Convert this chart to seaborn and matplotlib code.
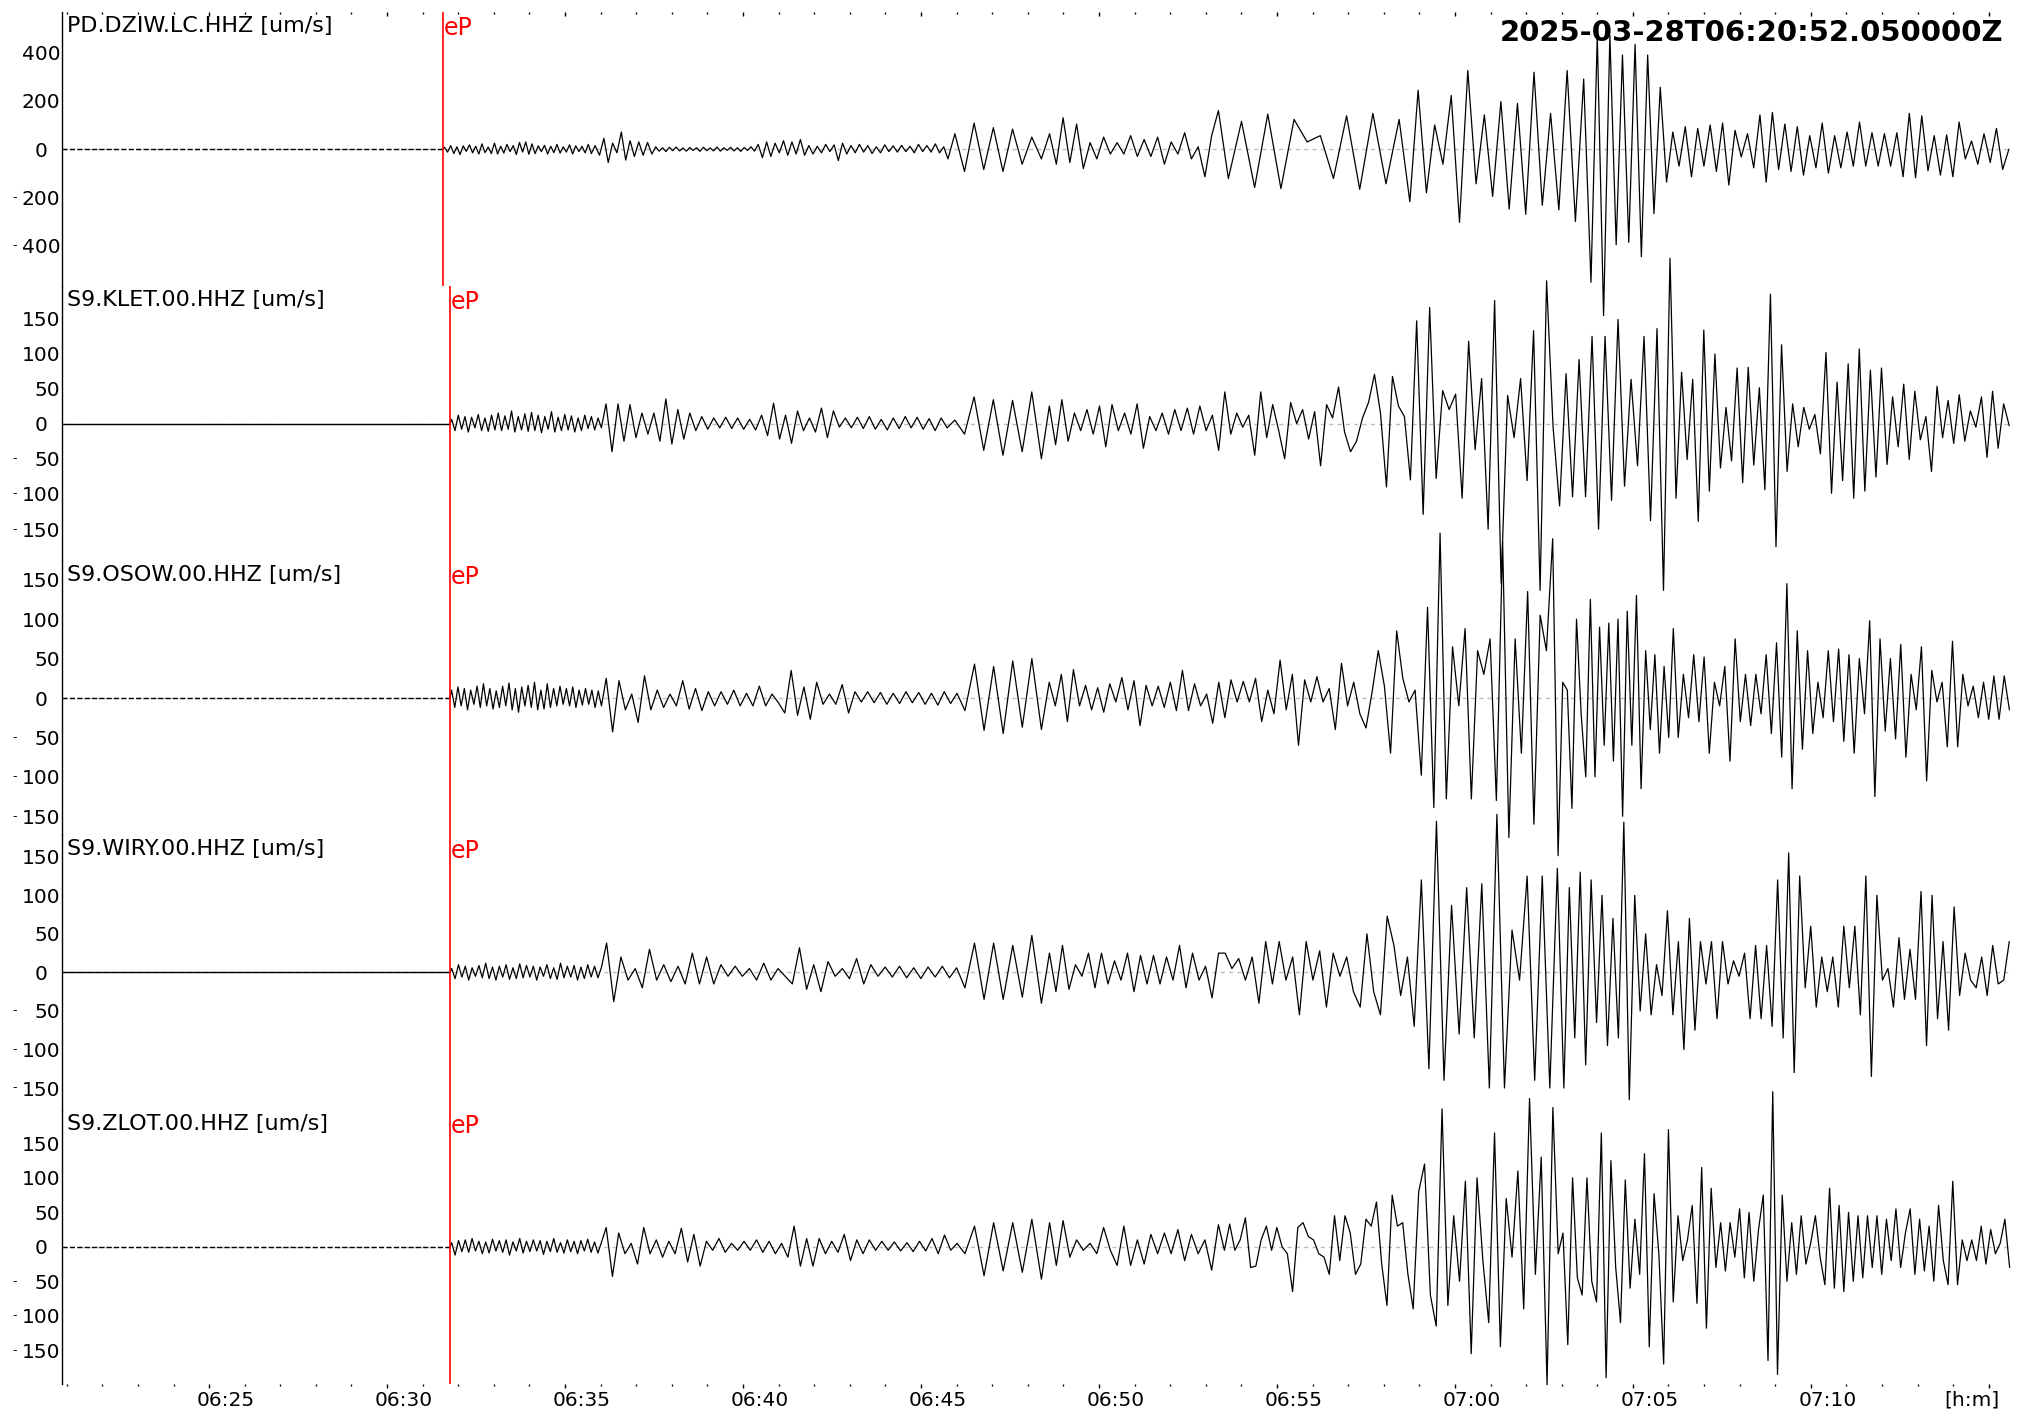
import pandas as pd
import matplotlib
matplotlib.use('Agg')
import matplotlib.pyplot as plt
import matplotlib.transforms as mtransforms
import seaborn as sns

# window start 2025-03-28 06:20:52.05 UTC, all times below are seconds after it
start_label = '2025-03-28T06:20:52.050000Z'
start_sec = 20 * 60 + 52.05      # seconds after 06:00
end_t = 3287

stations = ['PD.DZIW.LC.HHZ', 'S9.KLET.00.HHZ', 'S9.OSOW.00.HHZ', 'S9.WIRY.00.HHZ', 'S9.ZLOT.00.HHZ']
pick_t = [642, 654, 654, 654, 654]
y_lim = [567, 195, 174, 178, 199]
y_ticks = [[400, 200, 0, -200, -400]] + [[150, 100, 50, 0, -50, -100, -150]] * 4
pre_style = ['--', '-', '--', '-', '--']

# peaks / troughs, grouped in time segments (edges in s)
dziw_edges = [642, 895, 998, 1170, 1497, 1659, 1955, 2265, 2572, 2710, 3287]
dziw_vals = [
    [8, -12, 15, -18, 10, -22, 14, -9, 18, -15, 12, -20, 22, -14, 9, -18, 25, -20, 12, -16, 20, -10, 15, -22,
     28, -12, 30, -21, 22, -18, 14, -10, 16, -20, 12, -14, 20, -16, 10, -12, 18, -20, 14, -10, 12, -15, 20, -18],
    [15, -25, 45, -55, 25, -15, 71, -45, 35, -30, 30, -25, 28, -20],
    [10, -8, 6, -10, 8, -6, 9, -7, 5, -8, 7, -5, 6, -9, 8, -6, 5, -7, 9, -8, 6, -5, 8, -7, 6, -9, 7, -5, 10, -8],
    [20, -35, 30, -30, 25, -15, 35, -25, 30, -20, 40, -25, 15, -20, 12, -15, 20, -10, 18, -47, 25, -20, 15, -15,
     20, -12, 15, -18, 10, -15, 18, -10, 14, -12, 16, -10, 12, -15, 20, -10, 15, -12, 22, -15, 10, -40],
    [64, -92, 108, -84, 89, -92, 83, -62, 50, -40],
    [64, -62, 130, -55, 104, -80, 27, -40, 50, -20, 27, -20, 56, -30, 40, -30, 50, -62, 30, -20, 68, -40, 10,
     -114, 56, 160],
    [-121, 115, -158, 145, -163, 123, 30, 56, -121, 138, -166, 148, -143, 123],
    [-217, 244, -180, 100, -62, 222, -302, 325, -143, 142, -195, 197, -247, 189, -269, 318, -232, 148, -251,
     325, -299, 290],
    [-550, 470, -688, 470, -395, 389, -385, 433, -444, 389, -266, 256, -136],
    [71, -70, 93, -114, 86, -70, 100, -92, 108, -148, 78, -32, 64, -77, 142, -136, 152, -84, 104, -92, 93, -107,
     56, -77, 108, -99, 56, -77, 71, -70, 112, -70, 68, -70, 64, -70, 68, -114, 148, -118, 138, -89, 56, -107,
     59, -114, 112, -40, 34, -62, 64, -55, 86, -84, 0],
]

klet_edges = [654, 912, 1497, 1659, 1955, 2278, 2716, 3287]
klet_vals = [
    [6, -10, 12, -8, 10, -12, 9, -6, 13, -10, 8, -11, 12, -9, 15, -10, 11, -8, 18, -12, 10, -9, 14, -11, 16,
     -10, 12, -13, 10, -8, 17, -12, 9, -10, 13, -9, 11, -12, 8, -10, 12, -7, 10, -9, 8, -6],
    [28, -40, 28, -25, 27, -20, 15, -15, 15, -25, 35, -29, 20, -22, 15, -10, 10, -8, 8, -6, 9, -7, 8, -8, 6, -9,
     12, -17, 29, -22, 12, -28, 18, -10, 8, -12, 22, -20, 18, -5, 8, -6, 9, -7, 10, -8, 6, -9, 8, -7, 10, -6,
     9, -8, 7, -10, 8, -6],
    [5, -15, 38, -38, 34, -45, 33, -40, 45, -50],
    [25, -30, 34, -25, 15, -10, 20, -15, 25, -33, 27, -10, 15, -15, 28, -35, 10, -10, 15, -15, 20, -10, 22, -15,
     25, -10, 12, -38],
    [45, -15, 15, -5, 12, -45, 45, -20, 27, -10, -50, 30, 0, 20, -22, 17, -60, 27, 8, 52, -12, -40, -25, 8, 30,
     70, 15, -90, 67, 25, 10, -80],
    [146, -129, 165, -78, 47, 20, 42, -106, 117, -37, 64, -150, 175, -227, 40, -20, 64, -81, 132, -237, 203, -5,
     -117, 71, -104, 91, -104, 124, -150, 124, -109, 148, -89, 63, -60, 124, -138, 135, -237, 235],
    [-106, 73, -51, 63, -139, 133, -96, 99, -63, 23, -53, 79, -84, 80, -59, 51, -94, 184, -175, 112, -68, 28,
     -33, 23, -8, 13, -43, 101, -99, 59, -81, 85, -106, 106, -96, 76, -76, 79, -58, 38, -33, 56, -51, 46, -23,
     10, -68, 53, -20, 33, -28, 41, -25, 18, -5, 38, -48, 46, -35, 28, -3],
]

osow_edges = [654, 912, 1514, 1659, 1955, 2286, 2518, 2720, 3287]
osow_vals = [
    [10, -12, 14, -10, 12, -15, 10, -8, 15, -12, 18, -10, 12, -14, 9, -12, 15, -10, 19, -15, 12, -18, 14, -10,
     16, -12, 20, -15, 10, -14, 18, -12, 12, -10, 15, -8, 12, -10, 14, -12, 10, -9, 12, -8, 10, -12, 9, -10],
    [25, -43, 22, -15, 5, -31, 28, -15, 10, -12, 5, -10, 22, -14, 12, -16, 8, -10, 8, -8, 10, -10, 6, -10, 15,
     -10, 5, -6, -19, 35, -22, 14, -27, 20, -8, 5, -8, 17, -19, 8, -5, 8, -6, 7, -8, 6, -7, 8, -6, 7, -8, 6, -9,
     8, -7, 6],
    [-16, 43, -41, 40, -45, 47, -37, 50, -40],
    [20, -10, 30, -30, 36, -10, 16, -15, 13, -18, 18, -5, 26, -15, 22, -35, 16, -10, 15, -12, 20, -16, 35, -16,
     18, -10, 5, -32, 20],
    [-25, 23, -5, 21, -5, 25, -30, 10, -20, 48, -15, 30, -60, 23, -5, 27, -5, 12, -40, 44, -10, 20, -20, -38, 8,
     60, 15, -70, 85, 25, -5, 10],
    [-98, 115, -139, 209, -128, 65, -10, 88, -128, 60, 30, 75, -130, 198, -177, 75, -70, 135, -160, 105, 60, 202],
    [-200, 20, 10, -140, 100, -20, -100, 125, -100, 90, -60, 95, -80, 100, -150, 110, -60, 130, -115, 60, -40,
     55, -70, 40, -50, 88],
    [-50, 30, -25, 55, -30, 52, -70, 20, -10, 40, -80, 75, -30, 30, -35, 30, -20, 55, -45, 70, -75, 145, -115,
     85, -65, 60, -45, 20, -25, 60, -30, 62, -55, 55, -70, 50, -20, 98, -125, 75, -42, 50, -52, 68, -75, 30,
     -15, 65, -105, 35, -5, 20, -62, 72, -62, 30, -10, 15, -25, 20, -27, 28, -27, 28, -15],
]

wiry_edges = [654, 912, 1514, 1659, 1955, 2285, 2527, 2720, 3287]
wiry_vals = [
    [5, -8, 10, -6, 8, -10, 6, -5, 9, -7, 12, -8, 7, -10, 8, -6, 10, -9, 6, -8, 11, -7, 9, -6, 8, -10, 7, -5,
     10, -8, 6, -9, 12, -7, 8, -6, 9, -10, 7, -8, 10, -6, 8, -7, 6],
    [38, -38, 20, -10, 5, -20, 30, -10, 10, -12, 8, -15, 25, -15, 20, -15, 10, -5, 8, -5, 5, -10, 12, -10, 5,
     -5, -15, 32, -22, 10, -25, 14, -5, 5, -8, 18, -15, 10, -5, 7, -6, 8, -7, 6, -8, 7, -6, 8, -7, 6],
    [-20, 38, -35, 38, -35, 35, -32, 48, -40],
    [25, -25, 35, -22, 10, -5, 25, -20, 25, -15, 15, -10, 25, -25, 22, -15, 22, -15, 20, -10, 35, -20, 25, -10,
     8, -33, 25],
    [25, 5, 18, -10, 20, -40, 40, -15, 40, -10, 20, -55, 40, -10, 28, -45, 25, -5, 20, -25, -45, 50, -25, -55,
     73, 35, -30, 20, -70],
    [120, -125, 196, -140, 87, -80, 110, -85, 115, -150, 205, -150, 55, -10, 125, -140, 125, -150, 135],
    [-150, 110, -85, 130, -120, 120, -65, 100, -95, 70, -85, 195, -165, 100, -50, 50, -55, 10, -30, 80, -55],
    [40, -100, 70, -75, 40, -15, 40, -60, 40, -15, 15, -5, 25, -60, 35, -60, 35, -70, 120, -85, 155, -130, 125,
     -20, 60, -45, 20, -25, 20, -45, 60, -20, 60, -55, 125, -135, 100, -10, 5, -45, 45, -35, 30, -35, 105, -95,
     100, -60, 40, -75, 85, -30, 25, -10, -20, 20, -30, 35, -15, -10, 40],
]

zlot_edges = [654, 912, 1514, 1659, 1955, 2282, 2518, 2720, 3287]
zlot_vals = [
    [6, -12, 9, -7, 10, -8, 12, -6, 8, -10, 7, -9, 11, -6, 9, -8, 10, -12, 7, -6, 12, -9, 8, -7, 10, -6, 9, -11,
     8, -7, 12, -8, 6, -9, 10, -7, 8, -10, 9, -6, 11, -8, 7, -9, 6],
    [28, -43, 20, -10, 5, -25, 28, -10, 10, -15, 8, -10, 27, -22, 18, -28, 8, -5, 12, -8, 5, -5, 8, -5, 10, -8,
     8, -10, 5, -15, 30, -28, 12, -28, 12, -10, 8, -8, 18, -20, 10, -10, 10, -5, 8, -5, 7, -6, 6, -7, 8, -6, 12,
     -10, 17, -5, 5],
    [-10, 30, -42, 35, -35, 35, -37, 40, -47],
    [35, -27, 38, -15, 10, -5, 5, -10, 28, -5, -27, 30, -27, 10, -25, 18, -10, 20, -10, 25, -20, 18, -10, 10,
     -34, 32],
    [-5, 33, -5, 10, 42, -30, -28, 10, 30, -5, 28, 0, -10, -65, 28, 35, 15, 10, -10, -15, -40, 45, -20, 45, 20,
     -40, -25, 40, 30, 65, -25, -85, 75, 30, 35, -40, -90],
    [80, 120, -70, -115, 200, -85, 45, -50, 95, -155, 100, -20, -110, 165, -145, 70, -15, 110, -90, 215, -40,
     130, -200, 202],
    [-10, 20, -142, 100, -45, -70, 100, -50, -80, 165, -190, 125, -30, -110, 97, -60, 40, -40, 135, -145, 77,
     -10, -170, 170, -80],
    [45, -20, 10, 60, -82, 115, -118, 85, -30, 35, -35, 35, -15, 55, -45, 50, -50, 25, 75, -165, 225, -185, 75,
     -50, 35, -40, 45, -25, 5, 45, -15, -55, 85, -60, 60, -65, 50, -50, 45, -45, 45, -30, 45, -40, 40, -20, 55,
     -30, 20, 55, -40, 40, -35, 30, -50, 60, -20, -55, 95, -55, 10, -20, 10, -20, 30, -25, 25, -10, 5, 40, -30],
]

all_edges = [dziw_edges, klet_edges, osow_edges, wiry_edges, zlot_edges]
all_vals = [dziw_vals, klet_vals, osow_vals, wiry_vals, zlot_vals]


def trace_frame(edges, vals):
    # extrema spread evenly inside their segment
    t, v = [], []
    for a, b, seg in zip(edges[:-1], edges[1:], vals):
        step = (b - a) / len(seg)
        t += [a + (k + 0.5) * step for k in range(len(seg))]
        v += seg
    return pd.DataFrame({'t': [edges[0]] + t, 'v': [0] + v})


sns.set_theme(style='white')
plt.rcParams['font.family'] = ['DejaVu Sans']
plt.rcParams['text.color'] = 'black'

W, H = 2022, 1424
left, right, top, bottom = 62, 2012, 12, 1384
ph = (bottom - top) / 5

fig = plt.figure(figsize=(W / 100, H / 100), dpi=100)
fig.patch.set_facecolor('white')

minutes = list(range(21, 76))
minute_t = [m * 60 - start_sec for m in minutes]
major_m = [m for m in minutes if m % 5 == 0]
major_t = [m * 60 - start_sec for m in major_m]
major_lab = ['%02d:%02d' % (6 + m // 60, m % 60) for m in major_m]
major_lab[-1] = '[h:m]'

axes = []
for i in range(5):
    ax = fig.add_axes([left / W, 1 - (top + (i + 1) * ph) / H, (right - left) / W, ph / H])
    ax.set_facecolor('none')
    axes.append(ax)

    ax.axhline(0, color='#bdbdbd', linestyle=(0, (3, 3)), linewidth=1, zorder=1)
    pre = pd.DataFrame({'t': [0, pick_t[i]], 'v': [0, 0]})
    sns.lineplot(data=pre, x='t', y='v', ax=ax, color='black', linewidth=1,
                 linestyle=pre_style[i], estimator=None, sort=False, zorder=2)
    df = trace_frame(all_edges[i], all_vals[i])
    sns.lineplot(data=df, x='t', y='v', ax=ax, color='black', linewidth=0.9,
                 estimator=None, sort=False, clip_on=False, zorder=3)
    ax.axvline(pick_t[i], color='red', linewidth=1.2, zorder=4)

    ax.set_xlim(0, end_t)
    ax.set_ylim(-y_lim[i], y_lim[i])
    ax.set_xlabel('')
    ax.set_ylabel('')
    for s in ['top', 'right', 'bottom']:
        ax.spines[s].set_visible(False)
    ax.spines['left'].set_color('black')
    ax.spines['left'].set_linewidth(1)

    ax.set_yticks(y_ticks[i])
    ax.set_yticklabels(['0  ' if v == 0 else str(abs(v)) for v in y_ticks[i]])
    ax.tick_params(axis='y', length=0, pad=1, labelsize=14.5, colors='black')
    dash_tr = mtransforms.blended_transform_factory(fig.transFigure, ax.transData)
    for v in y_ticks[i]:
        if v < 0:
            ax.text(15 / W, v, '-', transform=dash_tr, fontsize=9, ha='center', va='center')

    ax.annotate(stations[i] + ' [um/s]', xy=(0, 1), xycoords='axes fraction',
                xytext=(5, -4), textcoords='offset pixels', ha='left', va='top', fontsize=16)
    ax.annotate('eP', xy=(pick_t[i], 1), xycoords=('data', 'axes fraction'),
                xytext=(1, -4), textcoords='offset pixels', ha='left', va='top',
                fontsize=17, color='red')

    ax.set_xticks(major_t)
    ax.set_xticks(minute_t, minor=True)
    if i == 4:
        ax.set_xticklabels(major_lab)
        ax.tick_params(axis='x', which='major', bottom=True, top=False, direction='out',
                       length=3, width=1, pad=2, labelsize=14.5, colors='black')
        ax.tick_params(axis='x', which='minor', bottom=True, top=False, direction='out',
                       length=1.2, width=1, colors='black')
        for k, lab in enumerate(ax.get_xticklabels()):
            dx = -17 if k == len(major_lab) - 1 else 17
            lab.set_transform(lab.get_transform() +
                              mtransforms.ScaledTranslation(dx / 100, 0, fig.dpi_scale_trans))
    elif i == 0:
        ax.tick_params(axis='x', which='both', bottom=False, top=True, labelbottom=False,
                       labeltop=False, direction='in', width=1, colors='black')
        ax.tick_params(axis='x', which='major', length=3)
        ax.tick_params(axis='x', which='minor', length=1.2)
    else:
        ax.tick_params(axis='x', which='both', bottom=False, top=False,
                       labelbottom=False, labeltop=False)

fig.text(2003 / W, 1 - 33 / H, start_label, ha='right', va='center',
         fontsize=21, fontweight='bold', zorder=10)

fig.savefig('out.png', dpi=100)
